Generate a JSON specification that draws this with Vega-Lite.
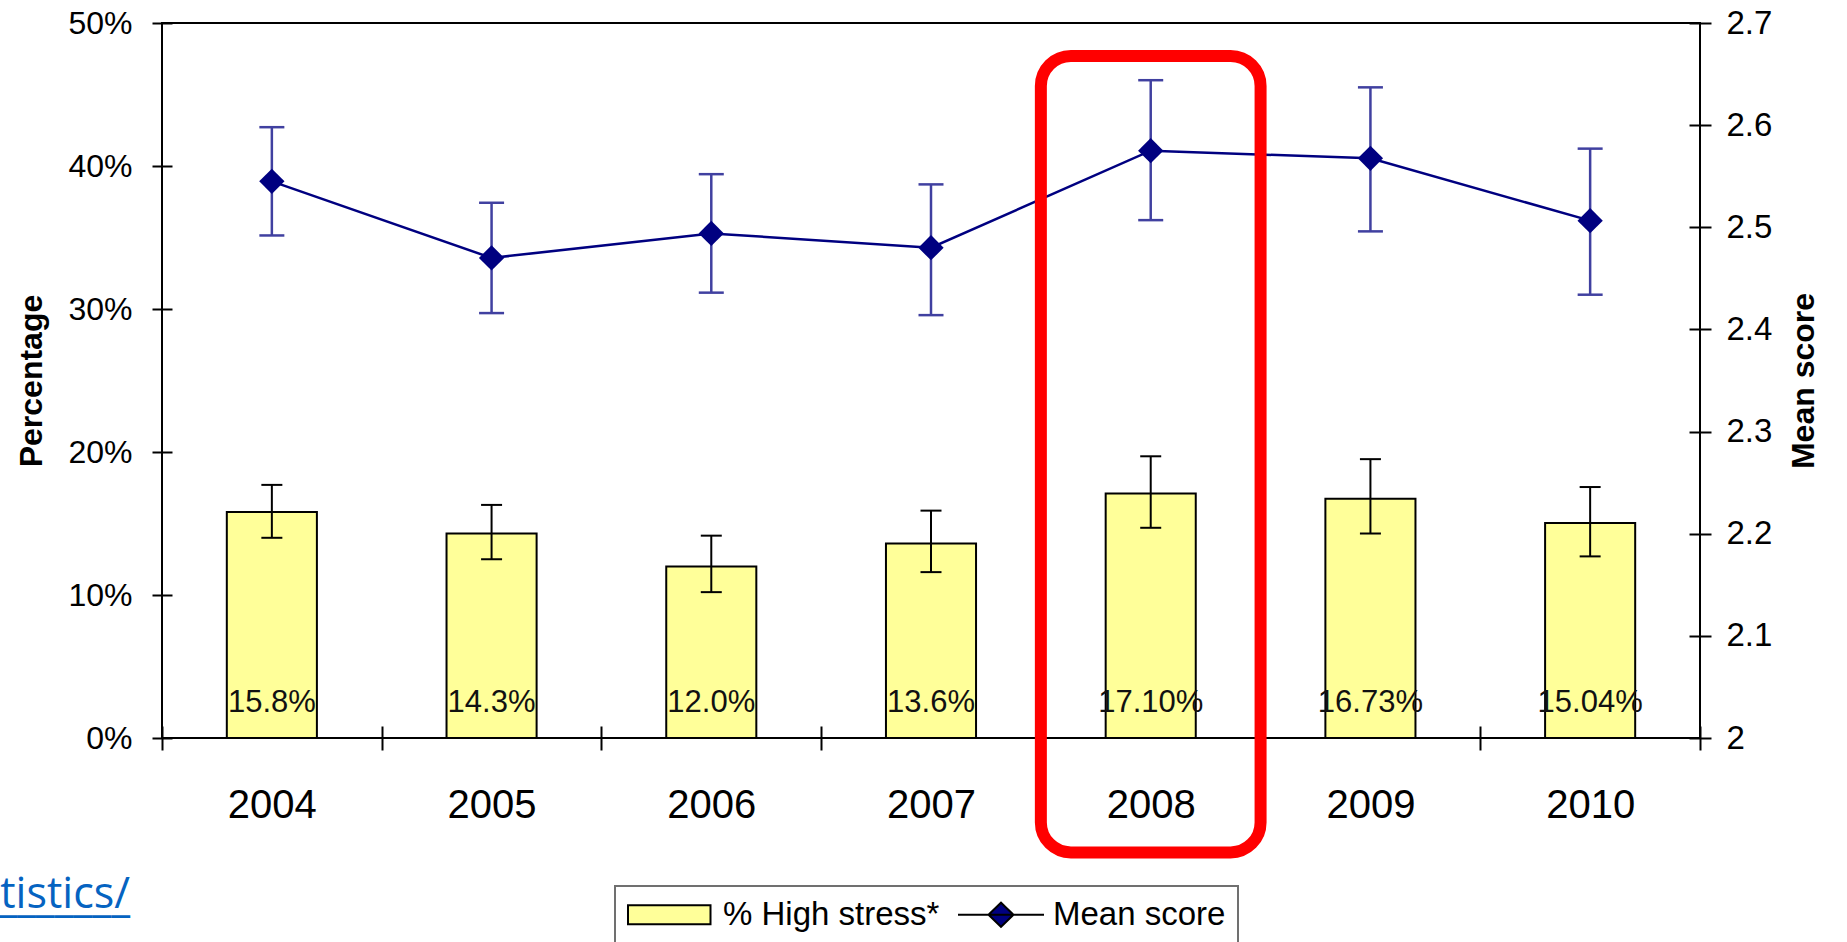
{
  "$schema": "https://vega.github.io/schema/vega-lite/v6.json",
  "width": 1538,
  "height": 715,
  "autosize": {"type": "none"},
  "padding": {"left": 162, "top": 23, "right": 147, "bottom": 204},
  "background": "#ffffff",
  "config": {
    "view": {"stroke": "#000000", "strokeWidth": 2},
    "font": "Liberation Sans",
    "legend": {"strokeWidth": 2}
  },
  "data": {
    "values": [
      {"year": "2004", "pct": 15.8, "pct_lo": 14.0, "pct_hi": 17.7, "label": "15.8%", "mean": 2.545, "mean_lo": 2.492, "mean_hi": 2.598},
      {"year": "2005", "pct": 14.3, "pct_lo": 12.5, "pct_hi": 16.3, "label": "14.3%", "mean": 2.470, "mean_lo": 2.416, "mean_hi": 2.524},
      {"year": "2006", "pct": 12.0, "pct_lo": 10.2, "pct_hi": 14.15, "label": "12.0%", "mean": 2.494, "mean_lo": 2.436, "mean_hi": 2.552},
      {"year": "2007", "pct": 13.6, "pct_lo": 11.6, "pct_hi": 15.9, "label": "13.6%", "mean": 2.480, "mean_lo": 2.414, "mean_hi": 2.542},
      {"year": "2008", "pct": 17.1, "pct_lo": 14.7, "pct_hi": 19.7, "label": "17.10%", "mean": 2.575, "mean_lo": 2.507, "mean_hi": 2.644},
      {"year": "2009", "pct": 16.73, "pct_lo": 14.3, "pct_hi": 19.5, "label": "16.73%", "mean": 2.5675, "mean_lo": 2.496, "mean_hi": 2.637},
      {"year": "2010", "pct": 15.04, "pct_lo": 12.7, "pct_hi": 17.55, "label": "15.04%", "mean": 2.5065, "mean_lo": 2.434, "mean_hi": 2.577}
    ]
  },
  "encoding": {
    "x": {
      "field": "year",
      "type": "ordinal",
      "scale": {"paddingInner": 0, "paddingOuter": 0},
      "axis": {
        "title": null,
        "labelAngle": 0,
        "labelFontSize": 40,
        "labelColor": "#000000",
        "labelPadding": 35,
        "tickBand": "extent",
        "domain": false,
        "offset": -12,
        "tickSize": 24,
        "tickWidth": 2,
        "tickColor": "#000000"
      }
    }
  },
  "layer": [
    {
      "encoding": {
        "y": {
          "field": "mean",
          "type": "quantitative",
          "scale": {"domain": [2, 2.7], "nice": false, "zero": false},
          "axis": {
            "orient": "right",
            "values": [2, 2.1, 2.2, 2.3, 2.4, 2.5, 2.6, 2.7],
            "format": "~g",
            "grid": false,
            "domain": false,
            "offset": -11,
            "tickSize": 22,
            "tickWidth": 2,
            "tickColor": "#000000",
            "labelFontSize": 33,
            "labelColor": "#000000",
            "labelPadding": 15,
            "title": "Mean score",
            "titleFontSize": 32,
            "titleFontWeight": "bold",
            "titleColor": "#000000",
            "titleAngle": -90,
            "titleBaseline": "top",
            "titlePadding": 17
          }
        }
      },
      "layer": [
        {
          "mark": {"type": "rule", "color": "#4040a0", "strokeWidth": 2.5},
          "encoding": {"y": {"field": "mean_lo", "type": "quantitative"}, "y2": {"field": "mean_hi"}}
        },
        {
          "mark": {"type": "tick", "color": "#4040a0", "size": 25, "thickness": 2.5, "opacity": 1},
          "encoding": {"y": {"field": "mean_hi", "type": "quantitative"}}
        },
        {
          "mark": {"type": "tick", "color": "#4040a0", "size": 25, "thickness": 2.5, "opacity": 1},
          "encoding": {"y": {"field": "mean_lo", "type": "quantitative"}}
        },
        {
          "mark": {"type": "line", "strokeWidth": 2.5, "color": "#000080"}
        },
        {
          "mark": {"type": "point", "shape": "diamond", "filled": true, "size": 640, "color": "#000080", "opacity": 1}
        }
      ]
    },
    {
      "encoding": {
        "y": {
          "field": "pct",
          "type": "quantitative",
          "scale": {"domain": [0, 50], "nice": false, "zero": true},
          "axis": {
            "orient": "left",
            "values": [0, 10, 20, 30, 40, 50],
            "labelExpr": "datum.value + '%'",
            "grid": false,
            "domain": false,
            "offset": -10,
            "tickSize": 20,
            "tickWidth": 2,
            "tickColor": "#000000",
            "labelFontSize": 32,
            "labelColor": "#000000",
            "labelPadding": 20,
            "title": "Percentage",
            "titleFontSize": 32,
            "titleFontWeight": "bold",
            "titleColor": "#000000",
            "titlePadding": 19
          }
        }
      },
      "layer": [
        {
          "mark": {"type": "bar", "stroke": "#000000", "strokeWidth": 2, "width": {"band": 0.41}},
          "encoding": {
            "color": {
              "datum": "% High stress*",
              "type": "nominal",
              "scale": {"domain": ["% High stress*", "Mean score"], "range": ["#FFFF99", "#000080"]},
              "legend": {
                "title": null,
                "orient": "none",
                "legendX": 453,
                "legendY": 863,
                "direction": "horizontal",
                "columns": 2,
                "padding": 12,
                "strokeColor": "#707070",
                "fillColor": "#ffffff",
                "labelFont": "Liberation Sans",
                "labelFontSize": 33,
                "labelColor": "#000000",
                "labelLimit": 400,
                "labelOffset": 62,
                "symbolSize": 400,
                "symbolStrokeWidth": 2,
                "symbolOffset": 1,
                "symbolType": {"expr": "datum.value === 'Mean score' ? 'M-1.65,0H6.95M1.4,0L2.65,-1.2L3.9,0L2.65,1.2Z' : 'M-1.65,-0.95H6.6V0.95H-1.65Z'"},
                "columnPadding": 14,
                "encode": {
                  "symbols": {
                    "fill": {"condition": {"test": "datum.value === 'Mean score'", "value": "#000080"}, "value": "#FFFF99"},
                    "stroke": {"condition": {"test": "datum.value === 'Mean score'", "value": "#000080"}, "value": "#000000"},
                    "strokeWidth": {"value": 2.5},
                    "size": {"value": 400},
                    "opacity": {"value": 1},
                    "fillOpacity": {"value": 1},
                    "strokeOpacity": {"value": 1}
                  }
                }
              }
            }
          }
        },
        {
          "mark": {"type": "rule", "color": "#000000", "strokeWidth": 2},
          "encoding": {"y": {"field": "pct_lo", "type": "quantitative"}, "y2": {"field": "pct_hi"}}
        },
        {
          "mark": {"type": "tick", "color": "#000000", "size": 21, "thickness": 2, "opacity": 1},
          "encoding": {"y": {"field": "pct_hi", "type": "quantitative"}}
        },
        {
          "mark": {"type": "tick", "color": "#000000", "size": 21, "thickness": 2, "opacity": 1},
          "encoding": {"y": {"field": "pct_lo", "type": "quantitative"}}
        },
        {
          "mark": {"type": "text", "fontSize": 31, "baseline": "alphabetic", "align": "center", "dy": -26, "color": "#111111"},
          "encoding": {"y": {"datum": 0}, "text": {"field": "label"}}
        },
        {
          "transform": [{"filter": "datum.year === '2004'"}],
          "mark": {"type": "text", "font": "Open Sans", "fontSize": 43, "align": "right", "baseline": "alphabetic", "dx": -32, "color": "#0563C1"},
          "encoding": {"x": {"field": "year", "type": "ordinal", "bandPosition": 0}, "y": {"datum": -11.9}, "text": {"value": "tistics/"}}
        },
        {
          "transform": [{"filter": "datum.year === '2004'"}],
          "mark": {"type": "text", "font": "Open Sans", "fontSize": 43, "align": "right", "baseline": "alphabetic", "dx": -32, "dy": 3, "color": "#0563C1"},
          "encoding": {"x": {"field": "year", "type": "ordinal", "bandPosition": 0}, "y": {"datum": -11.9}, "text": {"value": "___________"}}
        },
        {
          "transform": [{"filter": "datum.year === '2008'"}],
          "mark": {"type": "rect", "filled": false, "color": "#FF0000", "strokeWidth": 12, "cornerRadius": 30, "opacity": 1},
          "encoding": {"x": {"field": "year", "type": "ordinal"}, "y": {"datum": 47.7}, "y2": {"datum": -8.0}}
        }
      ]
    }
  ],
  "resolve": {"scale": {"y": "independent"}}
}
